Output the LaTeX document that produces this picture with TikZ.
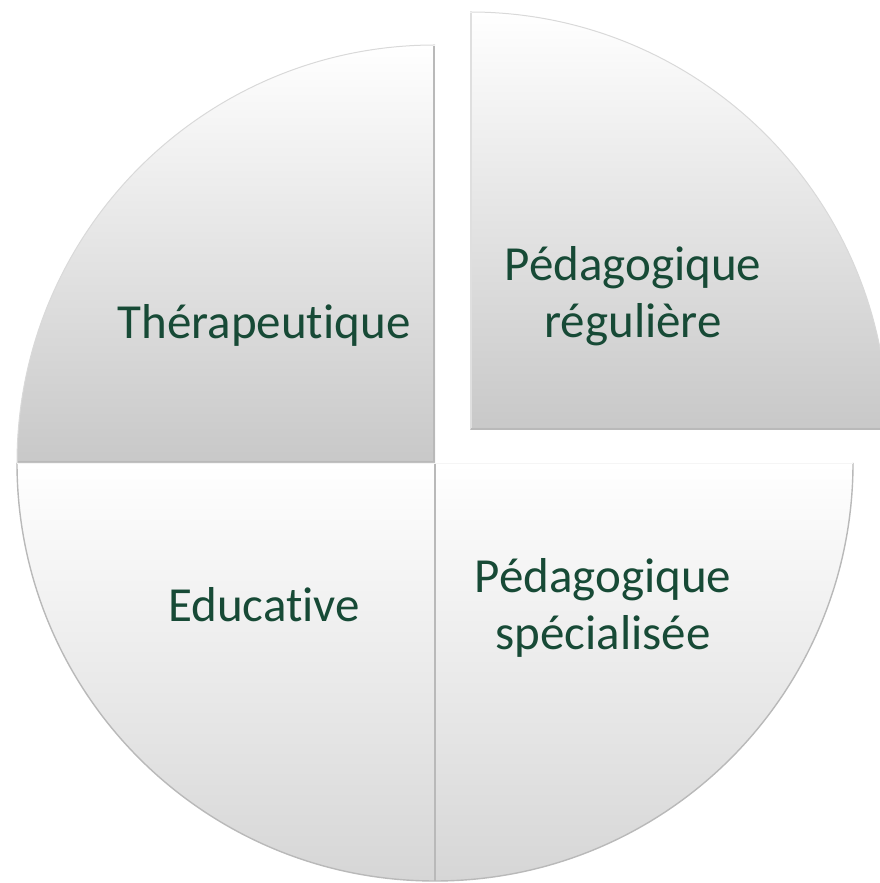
\documentclass[tikz,border=0pt]{standalone}
\usepackage{fontspec}
\setmainfont{Carlito}[Ligatures={NoCommon,NoContextual}]
\usetikzlibrary{calc}
\definecolor{txt}{HTML}{174A36}
\definecolor{gbot}{HTML}{C8C8C8}
\definecolor{gmid}{HTML}{E8E8E8}
\definecolor{gbot2}{HTML}{D6D6D6}
\definecolor{gmid2}{HTML}{EFEFEF}
\begin{document}
\begin{tikzpicture}[x=1pt,y=1pt,
  slice/.style={shading=axis, shading angle=0},
  lbl/.style={text=txt, font=\fontsize{49}{57}\selectfont, align=center, inner sep=0pt},
  edge/.style={draw=gray!55, line width=1.6pt},
  rim/.style={draw=gray!30, line width=1pt}]
\useasboundingbox (0,0) rectangle (880,883);
\def\R{418}
\coordinate (c) at (435,420);
\coordinate (ce) at (470,453);
% top-left
\path[slice, top color=white, middle color=gmid, bottom color=gbot]
  (c) -- ++(180:\R) arc[start angle=180, end angle=90, radius=\R] -- cycle;
\draw[rim] ($(c)+(180:\R)$) arc[start angle=180, end angle=90, radius=\R];
\draw[edge] ($(c)+(-\R+1,1)$) -- ($(c)+(-1,1)$) -- ($(c)+(-1,\R-1)$);
% top-right (exploded)
\path[slice, top color=white, middle color=gmid, bottom color=gbot]
  (ce) -- ++(90:\R) arc[start angle=90, end angle=0, radius=\R] -- cycle;
\draw[rim] ($(ce)+(90:\R)$) arc[start angle=90, end angle=0, radius=\R];
\draw[draw=gray!25, line width=1.6pt] ($(ce)+(1,\R-1)$) -- ($(ce)+(1,1)$);
\draw[edge] ($(ce)+(1,1)$) -- ($(ce)+(\R-1,1)$);
% bottom-left
\path[slice, top color=white, middle color=gmid2, bottom color=gbot2]
  (c) -- ++(180:\R) arc[start angle=180, end angle=270, radius=\R] -- cycle;
% bottom-right
\path[slice, top color=white, middle color=gmid2, bottom color=gbot2]
  (c) -- ++(270:\R) arc[start angle=270, end angle=360, radius=\R] -- cycle;
\draw[draw=gray!55, line width=1.4pt] ($(c)+(180:\R)$) arc[start angle=180, end angle=360, radius=\R];
\draw[edge] ($(c)+(0,-1)$) -- ($(c)+(0,-\R)$);
\draw[draw=gray!8, line width=1pt] ($(c)+(-\R,-1)$) -- ($(c)+(\R,-1)$);
% labels
\node[lbl] (t1) at (264,558) {Thérapeutique};
\node[lbl] (t2) at (633,587) {Pédagogique\\régulière};
\node[lbl] (t3) at (264,278) {Educative};
\node[lbl] (t4) at (603,275) {Pédagogique\\spécialisée};
\end{tikzpicture}
\end{document}
